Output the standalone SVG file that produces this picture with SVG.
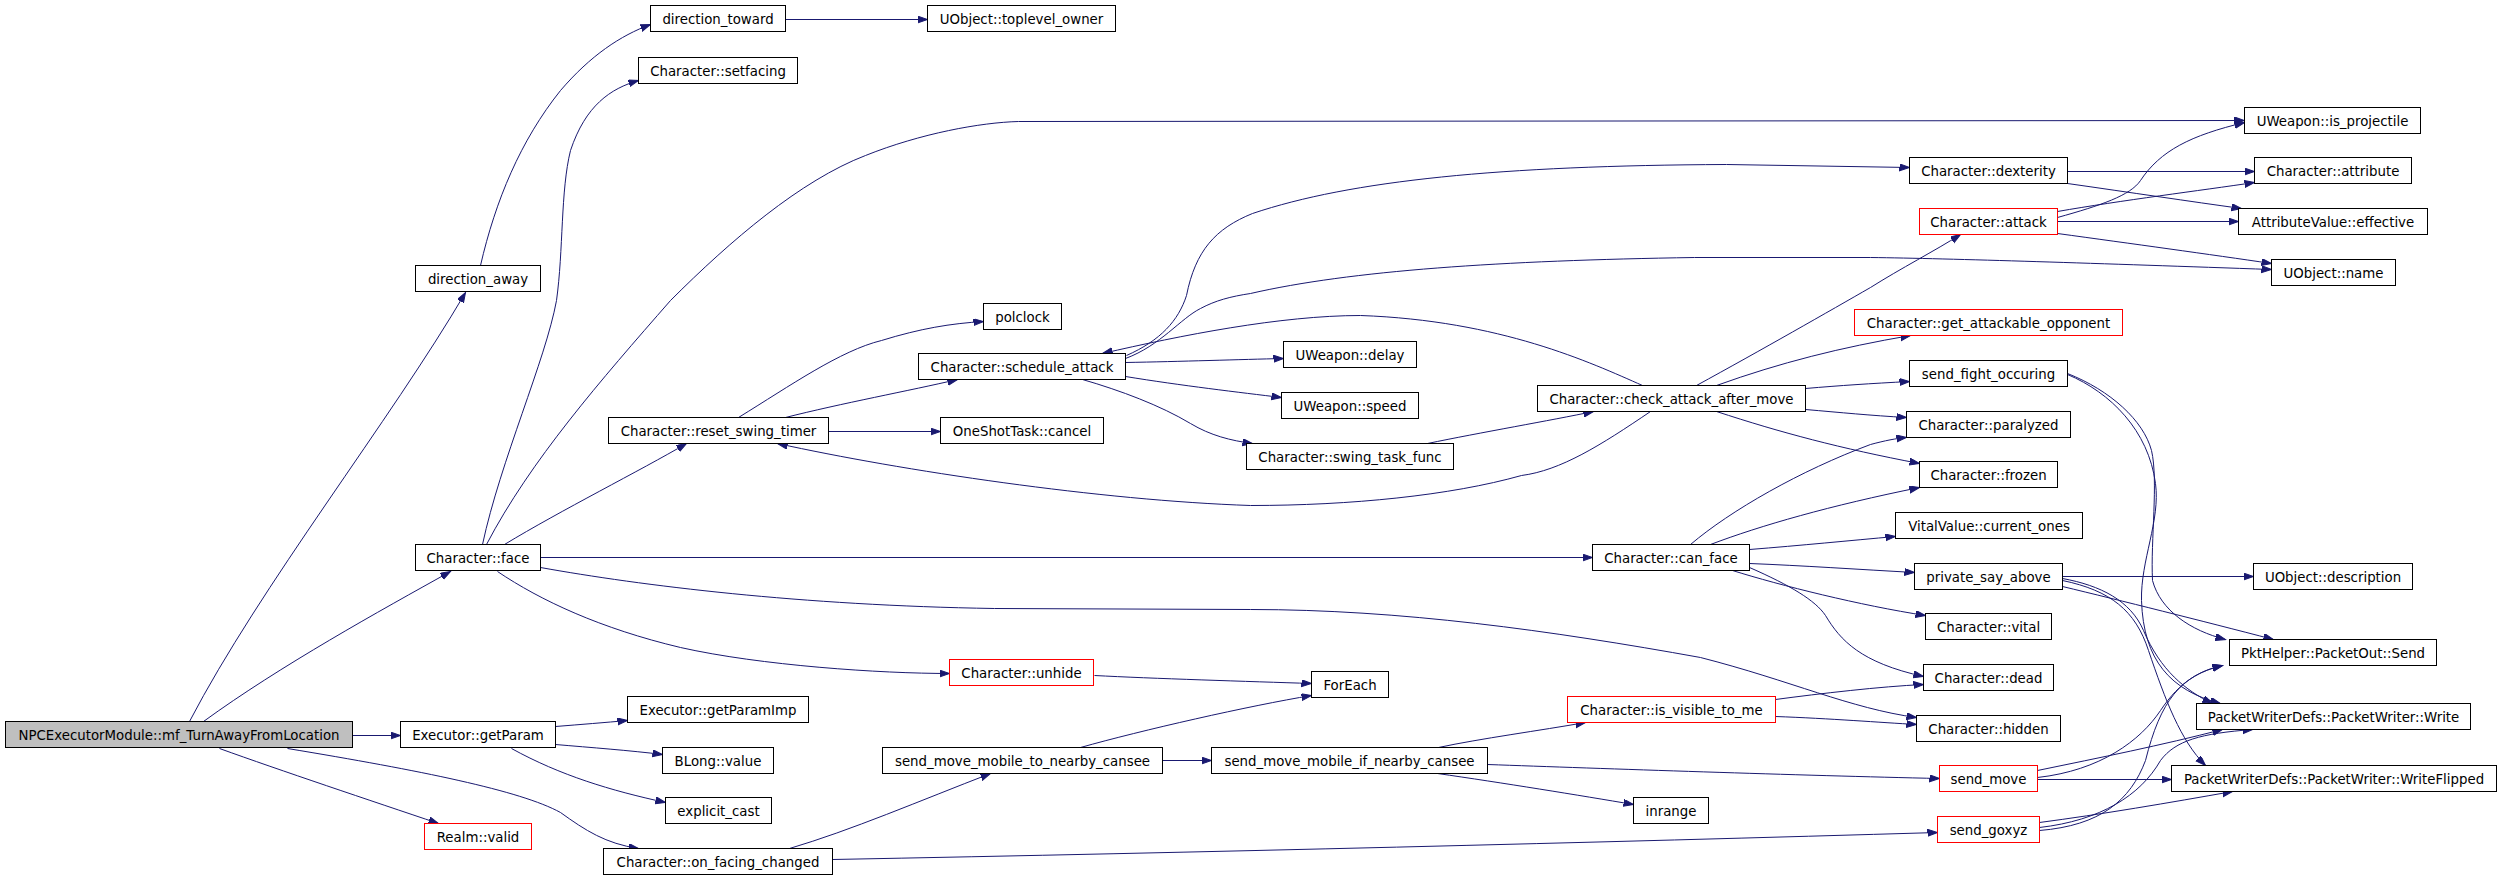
<svg xmlns="http://www.w3.org/2000/svg" width="2501" height="880" viewBox="0 0 2501 880">
<style>
.n rect{fill:#fff;stroke:#000;stroke-width:1}
.n.r rect{stroke:#ff0000}
.n.g rect{fill:#bfbfbf}
text{font-family:"DejaVu Sans","Liberation Sans",sans-serif;font-size:13.33px;text-anchor:middle;fill:#000}
#edges path{fill:none;stroke:#191970;stroke-width:1;marker-end:url(#a)}
</style>
<defs>
<marker id="a" markerUnits="userSpaceOnUse" markerWidth="11" markerHeight="8" refX="10" refY="3.5" orient="auto">
<path d="M0,0 L10,3.5 L0,7 z" fill="#191970" stroke="#191970" stroke-width="1"/>
</marker>
</defs>
<rect width="2501" height="880" fill="#fff"/>
<g transform="translate(0.5,0.5)">
<g id="edges">
<path d="M189,721 C260,585 390,420 465,292"/>
<path d="M203,721 C280,665 380,610 450,571"/>
<path d="M352,735 L400,735"/>
<path d="M219,748 C280,770 370,800 438,823"/>
<path d="M287,748 C420,770 520,790 560,812 C585,830 605,843 638,848"/>
<path d="M555,726 C580,724 605,722 627,720"/>
<path d="M555,744 C590,747 630,750 662,754"/>
<path d="M511,748 C560,775 610,790 665,802"/>
<path d="M482,544 C500,460 545,360 556,300 C563,250 560,190 570,150 C585,105 610,88 638,80"/>
<path d="M480,265 C495,200 520,140 560,90 C590,55 620,35 650,24"/>
<path d="M486,544 C530,460 600,380 670,300 C730,240 800,180 865,155 C920,133 980,122 1018,121 L2244,120"/>
<path d="M504,544 C560,510 640,470 686,443"/>
<path d="M540,557 L1592,557"/>
<path d="M540,567 C640,585 800,605 994,608 L1250,609 C1400,609 1550,630 1700,657 C1790,680 1850,708 1916,717"/>
<path d="M497,571 C540,600 600,628 680,647 C760,665 880,673 949,673"/>
<path d="M1094,675 C1150,678 1250,681 1311,683"/>
<path d="M1080,747 C1140,730 1250,705 1311,695"/>
<path d="M789,848 C850,830 920,800 990,773"/>
<path d="M832,859 C1200,852 1600,842 1937,832"/>
<path d="M1162,760 L1211,760"/>
<path d="M1438,747 C1480,738 1540,730 1585,722"/>
<path d="M1487,764 C1600,768 1800,775 1939,778"/>
<path d="M1437,773 C1500,782 1580,795 1633,804"/>
<path d="M1775,699 C1820,693 1880,686 1923,684"/>
<path d="M1775,716 C1830,718 1880,722 1916,724"/>
<path d="M738,417 C790,385 840,350 881,340 C920,328 950,323 983,321"/>
<path d="M785,417 C840,403 910,390 957,379"/>
<path d="M828,431 L940,431"/>
<path d="M1125,362 C1180,361 1240,359 1283,358"/>
<path d="M1125,376 C1180,385 1240,392 1281,397"/>
<path d="M1082,379 C1120,390 1160,405 1190,423 C1210,435 1230,440 1252,443"/>
<path d="M1126,355 C1160,340 1178,320 1186,295 C1195,250 1215,228 1252,213 C1350,180 1500,165 1726,164 L1909,167"/>
<path d="M1125,358 C1160,345 1180,318 1200,308 C1215,300 1230,296 1250,293 C1350,270 1500,260 1694,257 L1870,257 C1950,258 2100,263 2271,269"/>
<path d="M1642,385 C1590,362 1500,320 1360,315 C1280,315 1180,335 1102,353"/>
<path d="M1650,411 C1600,445 1560,470 1521,475 C1450,495 1350,505 1250,505 C1100,500 900,470 777,443"/>
<path d="M1427,443 C1480,432 1550,420 1593,411"/>
<path d="M1696,385 C1760,350 1830,310 1870,287 C1900,268 1935,250 1960,234"/>
<path d="M1716,385 C1780,362 1840,347 1910,335"/>
<path d="M1805,388 C1840,385 1870,383 1909,381"/>
<path d="M1805,409 C1840,412 1870,415 1906,417"/>
<path d="M1716,411 C1780,432 1840,448 1919,463"/>
<path d="M1690,544 C1730,510 1800,470 1870,444 C1885,440 1895,438 1906,437"/>
<path d="M1710,544 C1760,525 1830,505 1919,487"/>
<path d="M1749,549 C1800,545 1850,540 1895,536"/>
<path d="M1749,563 C1800,565 1860,569 1914,572"/>
<path d="M1732,570 C1780,585 1860,605 1925,615"/>
<path d="M1749,567 C1790,585 1815,600 1825,615 C1840,640 1860,662 1923,676"/>
<path d="M2062,576 L2253,576"/>
<path d="M2062,586 C2120,600 2200,620 2273,639"/>
<path d="M2062,578 C2100,585 2130,600 2143,630 C2160,670 2185,690 2212,703"/>
<path d="M2062,580 C2110,590 2135,610 2148,650 C2165,700 2180,740 2205,765"/>
<path d="M2067,373 C2110,390 2143,420 2151,450 C2158,480 2150,540 2152,580 C2160,610 2190,630 2225,639"/>
<path d="M2067,374 C2110,392 2148,430 2155,483 C2160,520 2140,560 2141,600 C2143,660 2170,690 2220,703"/>
<path d="M2067,171 L2254,171"/>
<path d="M2067,183 C2130,192 2190,201 2241,208"/>
<path d="M2057,217 C2100,205 2130,195 2140,180 C2160,150 2190,135 2244,122"/>
<path d="M2057,211 C2120,200 2200,190 2254,182"/>
<path d="M2057,221 L2238,221"/>
<path d="M2057,233 C2130,243 2210,254 2271,263"/>
<path d="M785,19 L927,19"/>
<path d="M2037,770 C2100,757 2160,745 2222,729"/>
<path d="M2037,777 C2100,770 2140,740 2160,710 C2180,680 2200,670 2222,665"/>
<path d="M2037,779 L2171,779"/>
<path d="M2039,822 C2100,814 2170,802 2232,791"/>
<path d="M2039,827 C2100,820 2140,795 2160,760 C2175,740 2200,733 2252,729"/>
<path d="M2039,830 C2100,825 2130,800 2145,760 C2160,700 2180,675 2222,665"/>
</g>
<g id="n1" class="n g"><rect x="5" y="721" width="347" height="26"/><text x="178.5" y="739">NPCExecutorModule::mf_TurnAwayFromLocation</text></g>
<g id="n2" class="n"><rect x="415" y="265" width="125" height="26"/><text x="477.5" y="283">direction_away</text></g>
<g id="n3" class="n"><rect x="650" y="5" width="135" height="26"/><text x="717.5" y="23">direction_toward</text></g>
<g id="n4" class="n"><rect x="927" y="5" width="188" height="26"/><text x="1021" y="23">UObject::toplevel_owner</text></g>
<g id="n5" class="n"><rect x="638" y="57" width="159" height="26"/><text x="717.5" y="75">Character::setfacing</text></g>
<g id="n6" class="n"><rect x="2244" y="107" width="176" height="26"/><text x="2332" y="125">UWeapon::is_projectile</text></g>
<g id="n7" class="n"><rect x="1909" y="157" width="158" height="26"/><text x="1988" y="175">Character::dexterity</text></g>
<g id="n8" class="n"><rect x="2254" y="157" width="157" height="26"/><text x="2332.5" y="175">Character::attribute</text></g>
<g id="n9" class="n r"><rect x="1919" y="208" width="138" height="26"/><text x="1988" y="226">Character::attack</text></g>
<g id="n10" class="n"><rect x="2238" y="208" width="189" height="26"/><text x="2332.5" y="226">AttributeValue::effective</text></g>
<g id="n11" class="n"><rect x="2271" y="259" width="124" height="26"/><text x="2333" y="277">UObject::name</text></g>
<g id="n12" class="n"><rect x="983" y="303" width="78" height="26"/><text x="1022" y="321">polclock</text></g>
<g id="n13" class="n"><rect x="918" y="353" width="207" height="26"/><text x="1021.5" y="371">Character::schedule_attack</text></g>
<g id="n14" class="n"><rect x="608" y="417" width="220" height="26"/><text x="718" y="435">Character::reset_swing_timer</text></g>
<g id="n15" class="n"><rect x="940" y="417" width="163" height="26"/><text x="1021.5" y="435">OneShotTask::cancel</text></g>
<g id="n16" class="n"><rect x="1283" y="341" width="133" height="26"/><text x="1349.5" y="359">UWeapon::delay</text></g>
<g id="n17" class="n"><rect x="1281" y="392" width="137" height="26"/><text x="1349.5" y="410">UWeapon::speed</text></g>
<g id="n18" class="n"><rect x="1246" y="443" width="207" height="26"/><text x="1349.5" y="461">Character::swing_task_func</text></g>
<g id="n19" class="n"><rect x="1537" y="385" width="268" height="26"/><text x="1671" y="403">Character::check_attack_after_move</text></g>
<g id="n20" class="n"><rect x="1592" y="544" width="157" height="26"/><text x="1670.5" y="562">Character::can_face</text></g>
<g id="n21" class="n r"><rect x="1854" y="309" width="268" height="26"/><text x="1988" y="327">Character::get_attackable_opponent</text></g>
<g id="n22" class="n"><rect x="1909" y="360" width="158" height="26"/><text x="1988" y="378">send_fight_occuring</text></g>
<g id="n23" class="n"><rect x="1906" y="411" width="164" height="26"/><text x="1988" y="429">Character::paralyzed</text></g>
<g id="n24" class="n"><rect x="1919" y="461" width="138" height="26"/><text x="1988" y="479">Character::frozen</text></g>
<g id="n25" class="n"><rect x="1895" y="512" width="187" height="26"/><text x="1988.5" y="530">VitalValue::current_ones</text></g>
<g id="n26" class="n"><rect x="1914" y="563" width="148" height="26"/><text x="1988" y="581">private_say_above</text></g>
<g id="n27" class="n"><rect x="2253" y="563" width="159" height="26"/><text x="2332.5" y="581">UObject::description</text></g>
<g id="n28" class="n"><rect x="1925" y="613" width="126" height="26"/><text x="1988" y="631">Character::vital</text></g>
<g id="n29" class="n"><rect x="1923" y="664" width="130" height="26"/><text x="1988" y="682">Character::dead</text></g>
<g id="n30" class="n"><rect x="1916" y="715" width="144" height="26"/><text x="1988" y="733">Character::hidden</text></g>
<g id="n31" class="n r"><rect x="1939" y="765" width="98" height="26"/><text x="1988" y="783">send_move</text></g>
<g id="n32" class="n r"><rect x="1937" y="816" width="102" height="26"/><text x="1988" y="834">send_goxyz</text></g>
<g id="n33" class="n"><rect x="2229" y="639" width="207" height="26"/><text x="2332.5" y="657">PktHelper::PacketOut::Send</text></g>
<g id="n34" class="n"><rect x="2196" y="703" width="274" height="26"/><text x="2333" y="721">PacketWriterDefs::PacketWriter::Write</text></g>
<g id="n35" class="n"><rect x="2171" y="765" width="325" height="26"/><text x="2333.5" y="783">PacketWriterDefs::PacketWriter::WriteFlipped</text></g>
<g id="n36" class="n"><rect x="415" y="544" width="125" height="26"/><text x="477.5" y="562">Character::face</text></g>
<g id="n37" class="n"><rect x="400" y="721" width="155" height="26"/><text x="477.5" y="739">Executor::getParam</text></g>
<g id="n38" class="n r"><rect x="424" y="823" width="107" height="26"/><text x="477.5" y="841">Realm::valid</text></g>
<g id="n39" class="n r"><rect x="949" y="659" width="144" height="26"/><text x="1021" y="677">Character::unhide</text></g>
<g id="n40" class="n"><rect x="627" y="696" width="181" height="26"/><text x="717.5" y="714">Executor::getParamImp</text></g>
<g id="n41" class="n"><rect x="662" y="747" width="111" height="26"/><text x="717.5" y="765">BLong::value</text></g>
<g id="n42" class="n"><rect x="665" y="797" width="106" height="26"/><text x="718" y="815">explicit_cast</text></g>
<g id="n43" class="n"><rect x="603" y="848" width="229" height="26"/><text x="717.5" y="866">Character::on_facing_changed</text></g>
<g id="n44" class="n"><rect x="882" y="747" width="280" height="26"/><text x="1022" y="765">send_move_mobile_to_nearby_cansee</text></g>
<g id="n45" class="n"><rect x="1211" y="747" width="276" height="26"/><text x="1349" y="765">send_move_mobile_if_nearby_cansee</text></g>
<g id="n46" class="n"><rect x="1311" y="671" width="77" height="26"/><text x="1349.5" y="689">ForEach</text></g>
<g id="n47" class="n r"><rect x="1567" y="696" width="208" height="26"/><text x="1671" y="714">Character::is_visible_to_me</text></g>
<g id="n48" class="n"><rect x="1633" y="797" width="75" height="26"/><text x="1670.5" y="815">inrange</text></g>
</g>
</svg>
